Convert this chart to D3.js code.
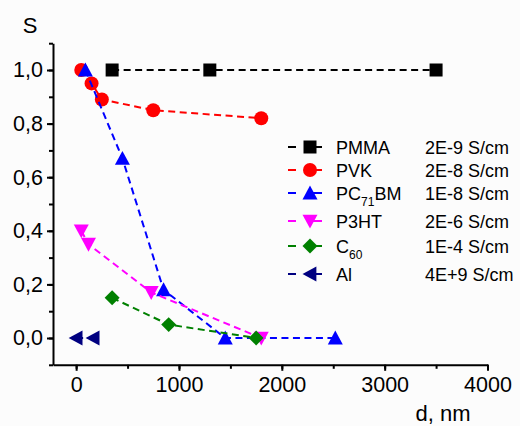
<!DOCTYPE html>
<html>
<head>
<meta charset="utf-8">
<script src="https://cdn.jsdelivr.net/npm/d3@7"></script>
<style>
  html, body { margin: 0; padding: 0; background: #fcfcfc; }
  svg { display: block; font-family: "Liberation Sans", Arial, sans-serif; }
</style>
</head>
<body>
<svg id="chart" width="520" height="426"></svg>
<script>
// Film thickness d (nm) and normalised signal S for each material
const pmmaX = [350, 1300, 3500];
const pmmaY = [1.0, 1.0, 1.0];
const pvkX = [50, 150, 250, 750, 1800];
const pvkY = [1.0, 0.95, 0.89, 0.85, 0.82];
const pcbmX = [90, 450, 850, 1450, 2520];
const pcbmY = [1.0, 0.67, 0.18, 0.0, 0.0];
const p3htX = [50, 120, 730, 1800];
const p3htY = [0.40, 0.35, 0.17, 0.0];
const c60X = [350, 900, 1750];
const c60Y = [0.15, 0.05, 0.0];
const alX = [0, 165];
const alY = [0.0, 0.0];

// Legend: name (with optional subscript) and conductivity
const names = [["PMMA", ""], ["PVK", ""], ["PC", "71", "BM"], ["P3HT", ""], ["C", "60"], ["Al", ""]];
const conductivity = ["2E-9 S/cm", "2E-8 S/cm", "1E-8 S/cm", "2E-6 S/cm", "1E-4 S/cm", "4E+9 S/cm"];

const xTicks = [0, 1000, 2000, 3000, 4000];
const yTicks = [0.0, 0.2, 0.4, 0.6, 0.8, 1.0];

const colors = ["#000000", "#ff0000", "#0000ff", "#ff00ff", "#008000", "#000080"];
const shapes = ["square", "circle", "up", "down", "diamond", "left"];

const series = [
  [pmmaX, pmmaY], [pvkX, pvkY], [pcbmX, pcbmY],
  [p3htX, p3htY], [c60X, c60Y], [alX, alY]
].map(([xs, ys], i) => ({
  pts: xs.map((x, j) => [x, ys[j]]),
  color: colors[i],
  shape: shapes[i]
}));

const svg = d3.select("#chart");

const x = d3.scaleLinear().domain([-225, 4000]).range([53, 487.5]);
const y = d3.scaleLinear().domain([-0.1, 1.1]).range([364.8, 43.2]);

// marker path, centred on its bounding box
function markerPath(shape, s) {
  const h = s / 2;
  switch (shape) {
    case "square": return `M${-h},${-h}H${h}V${h}H${-h}Z`;
    case "circle": return `M${h},0A${h},${h} 0 1 1 ${-h},0A${h},${h} 0 1 1 ${h},0Z`;
    case "up": return `M0,${-h}L${h},${h * 0.85}L${-h},${h * 0.85}Z`;
    case "down": return `M0,${h}L${h},${-h * 0.85}L${-h},${-h * 0.85}Z`;
    case "diamond": { const d = h * 1.15; return `M0,${-d}L${d},0L0,${d}L${-d},0Z`; }
    case "left": return `M${-h},0L${h * 0.85},${-h}L${h * 0.85},${h}Z`;
  }
}
const markerSize = { square: 13, circle: 14, up: 15, down: 15, diamond: 13, left: 15 };

// axes
const axisG = svg.append("g");
const xMinor = d3.range(0, 4001, 500);
const yMinor = d3.range(-1, 12).map(v => v / 10);

axisG.append("g")
  .attr("transform", `translate(0,${y(-0.1)})`)
  .call(d3.axisBottom(x).tickValues(xMinor).tickSize(4).tickFormat(""))
  .call(g => g.select(".domain").remove());
axisG.append("g")
  .attr("transform", `translate(${x(-225)},0)`)
  .call(d3.axisLeft(y).tickValues(yMinor).tickSize(4).tickFormat(""))
  .call(g => g.select(".domain").remove());

const xAxis = axisG.append("g")
  .attr("transform", `translate(0,${y(-0.1)})`)
  .call(d3.axisBottom(x).tickValues(xTicks).tickSize(6).tickSizeOuter(0).tickPadding(6)
    .tickFormat(d3.format("d")));
const yAxis = axisG.append("g")
  .attr("transform", `translate(${x(-225)},0)`)
  .call(d3.axisLeft(y).tickValues(yTicks).tickSize(6).tickSizeOuter(0).tickPadding(4)
    .tickFormat(d => d3.format(".1f")(d).replace(".", ",")));

axisG.selectAll("path, line").attr("stroke", "#000").attr("stroke-width", 2);
axisG.selectAll("text").attr("fill", "#000").attr("font-size", 21.5)
  .attr("font-family", "'Liberation Sans', Arial, sans-serif");
xAxis.selectAll("text").attr("dy", "0.71em");

// axis titles
svg.append("text").attr("x", 30).attr("y", 32.5).attr("text-anchor", "middle")
  .attr("font-size", 22).text("S");
svg.append("text").attr("x", 443).attr("y", 421).attr("text-anchor", "middle")
  .attr("font-size", 22).text("d, nm");

// data: dashed line then markers, series drawn in order
const line = d3.line().x(d => x(d[0])).y(d => y(d[1]));
series.forEach(s => {
  const g = svg.append("g");
  g.append("path").attr("d", line(s.pts)).attr("fill", "none")
    .attr("stroke", s.color).attr("stroke-width", 2).attr("stroke-dasharray", "7,4.5");
  g.selectAll("path.m").data(s.pts).join("path").attr("class", "m")
    .attr("transform", d => `translate(${x(d[0])},${y(d[1])})`)
    .attr("d", markerPath(s.shape, markerSize[s.shape]))
    .attr("fill", s.color);
});

// legend
const legendY = [147, 170, 193, 221, 246, 274];
const leg = svg.append("g");
series.forEach((s, i) => {
  const ly = legendY[i];
  leg.append("line").attr("x1", 288).attr("x2", 322).attr("y1", ly).attr("y2", ly)
    .attr("stroke", s.color).attr("stroke-width", 2).attr("stroke-dasharray", "8,14,12");
  leg.append("path").attr("transform", `translate(310,${ly})`)
    .attr("d", markerPath(s.shape, markerSize[s.shape])).attr("fill", s.color);
  const t = leg.append("text").attr("x", 336).attr("y", ly + 6.5).attr("font-size", 18);
  const n = names[i];
  t.append("tspan").text(n[0]);
  if (n[1]) {
    t.append("tspan").attr("font-size", 12).attr("dy", 6).text(n[1]);
    if (n[2]) t.append("tspan").attr("dy", -6).text(n[2]);
  }
  leg.append("text").attr("x", 425).attr("y", ly + 6.5).attr("font-size", 18).text(conductivity[i]);
});
</script>
</body>
</html>
